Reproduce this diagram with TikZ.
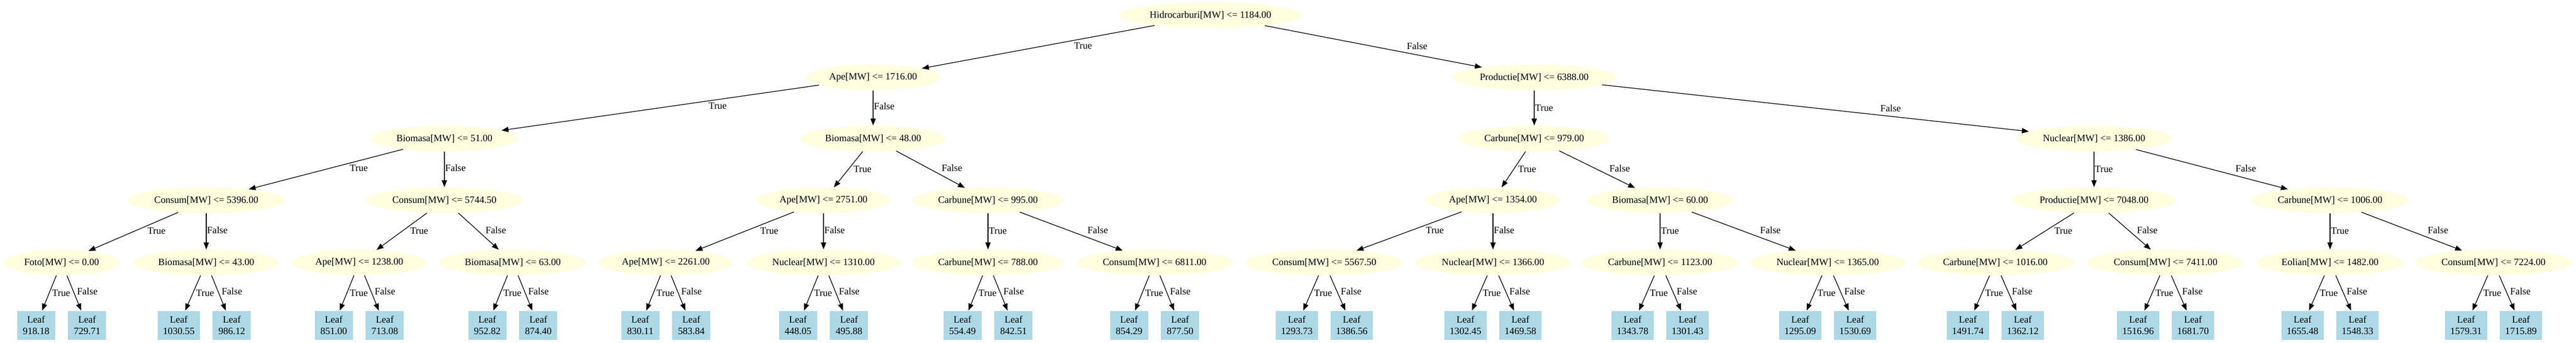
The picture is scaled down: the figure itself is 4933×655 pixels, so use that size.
\documentclass[tikz,border=0pt]{standalone}
\usepackage{fontspec}
\setmainfont{Liberation Serif}
\usepackage{tikz}
\usetikzlibrary{arrows.meta,shapes.geometric}
\usepackage{xcolor}
\definecolor{condfill}{HTML}{FFFFE0}
\definecolor{leaffill}{HTML}{ADD8E6}

\begin{document}
\begin{tikzpicture}[x=0.5pt,y=-0.5pt,>={Triangle[length=6.7pt,width=5pt]},
font=\fontsize{9.3}{11}\selectfont,
cond/.style={ellipse,fill=condfill,inner xsep=3.5pt,inner ysep=1pt,minimum height=24.5pt},
leaf/.style={rectangle,fill=leaffill,align=center,inner xsep=5pt,minimum width=36.5pt,minimum height=27.5pt},
truelbl/.style={pos=.35,anchor=north west,inner xsep=.5pt,inner ysep=0pt,text height=7.5pt,text depth=3pt},
falselbl/.style={pos=.65,anchor=south west,inner xsep=.5pt,inner ysep=0pt,text height=7.5pt,text depth=3pt},
branch/.style={->,line width=.65pt}]
\useasboundingbox (0,0) rectangle (4933,655);
%%%TESTS
\node[cond] (root) at (2318,29) {Hidrocarburi[MW] <= 1184.00};
\node[cond] (ape1) at (1672,148) {Ape[MW] <= 1716.00};
\node[cond] (prod1) at (2938,148) {Productie[MW] <= 6388.00};
\node[cond] (bio1) at (851,265) {Biomasa[MW] <= 51.00};
\node[cond] (bio2) at (1672,265) {Biomasa[MW] <= 48.00};
\node[cond] (carb1) at (2938,265) {Carbune[MW] <= 979.00};
\node[cond] (nuc1) at (4010,265) {Nuclear[MW] <= 1386.00};
\node[cond] (con1) at (395,383) {Consum[MW] <= 5396.00};
\node[cond] (con2) at (851,383) {Consum[MW] <= 5744.50};
\node[cond] (ape2) at (1577,383) {Ape[MW] <= 2751.00};
\node[cond] (carb2) at (1892,383) {Carbune[MW] <= 995.00};
\node[cond] (ape3) at (2859,383) {Ape[MW] <= 1354.00};
\node[cond] (bio3) at (3179,383) {Biomasa[MW] <= 60.00};
\node[cond] (prod2) at (4010,383) {Productie[MW] <= 7048.00};
\node[cond] (carb3) at (4462,383) {Carbune[MW] <= 1006.00};
\node[cond] (foto) at (118,502) {Foto[MW] <= 0.00};
\node[cond] (bio4) at (395,502) {Biomasa[MW] <= 43.00};
\node[cond] (ape4) at (688,502) {Ape[MW] <= 1238.00};
\node[cond] (bio5) at (982,502) {Biomasa[MW] <= 63.00};
\node[cond] (ape5) at (1275,502) {Ape[MW] <= 2261.00};
\node[cond] (nuc2) at (1577,502) {Nuclear[MW] <= 1310.00};
\node[cond] (carb4) at (1892,502) {Carbune[MW] <= 788.00};
\node[cond] (con3) at (2211,502) {Consum[MW] <= 6811.00};
\node[cond] (con4) at (2536,502) {Consum[MW] <= 5567.50};
\node[cond] (nuc3) at (2859,502) {Nuclear[MW] <= 1366.00};
\node[cond] (carb5) at (3179,502) {Carbune[MW] <= 1123.00};
\node[cond] (nuc4) at (3500,502) {Nuclear[MW] <= 1365.00};
\node[cond] (carb6) at (3821,502) {Carbune[MW] <= 1016.00};
\node[cond] (con5) at (4147,502) {Consum[MW] <= 7411.00};
\node[cond] (eol) at (4462,502) {Eolian[MW] <= 1482.00};
\node[cond] (con6) at (4775,502) {Consum[MW] <= 7224.00};
%%%LEAVES
\node[leaf,anchor=east] (foto-t) at (106,622) {Leaf\\918.18};
\node[leaf,anchor=west] (foto-f) at (130,622) {Leaf\\729.71};
\node[leaf,anchor=east] (bio4-t) at (383,622) {Leaf\\1030.55};
\node[leaf,anchor=west] (bio4-f) at (407,622) {Leaf\\986.12};
\node[leaf,anchor=east] (ape4-t) at (676,622) {Leaf\\851.00};
\node[leaf,anchor=west] (ape4-f) at (700,622) {Leaf\\713.08};
\node[leaf,anchor=east] (bio5-t) at (970,622) {Leaf\\952.82};
\node[leaf,anchor=west] (bio5-f) at (994,622) {Leaf\\874.40};
\node[leaf,anchor=east] (ape5-t) at (1263,622) {Leaf\\830.11};
\node[leaf,anchor=west] (ape5-f) at (1287,622) {Leaf\\583.84};
\node[leaf,anchor=east] (nuc2-t) at (1565,622) {Leaf\\448.05};
\node[leaf,anchor=west] (nuc2-f) at (1589,622) {Leaf\\495.88};
\node[leaf,anchor=east] (carb4-t) at (1880,622) {Leaf\\554.49};
\node[leaf,anchor=west] (carb4-f) at (1904,622) {Leaf\\842.51};
\node[leaf,anchor=east] (con3-t) at (2199,622) {Leaf\\854.29};
\node[leaf,anchor=west] (con3-f) at (2223,622) {Leaf\\877.50};
\node[leaf,anchor=east] (con4-t) at (2524,622) {Leaf\\1293.73};
\node[leaf,anchor=west] (con4-f) at (2548,622) {Leaf\\1386.56};
\node[leaf,anchor=east] (nuc3-t) at (2847,622) {Leaf\\1302.45};
\node[leaf,anchor=west] (nuc3-f) at (2871,622) {Leaf\\1469.58};
\node[leaf,anchor=east] (carb5-t) at (3167,622) {Leaf\\1343.78};
\node[leaf,anchor=west] (carb5-f) at (3191,622) {Leaf\\1301.43};
\node[leaf,anchor=east] (nuc4-t) at (3488,622) {Leaf\\1295.09};
\node[leaf,anchor=west] (nuc4-f) at (3512,622) {Leaf\\1530.69};
\node[leaf,anchor=east] (carb6-t) at (3809,622) {Leaf\\1491.74};
\node[leaf,anchor=west] (carb6-f) at (3833,622) {Leaf\\1362.12};
\node[leaf,anchor=east] (con5-t) at (4135,622) {Leaf\\1516.96};
\node[leaf,anchor=west] (con5-f) at (4159,622) {Leaf\\1681.70};
\node[leaf,anchor=east] (eol-t) at (4450,622) {Leaf\\1655.48};
\node[leaf,anchor=west] (eol-f) at (4474,622) {Leaf\\1548.33};
\node[leaf,anchor=east] (con6-t) at (4763,622) {Leaf\\1579.31};
\node[leaf,anchor=west] (con6-f) at (4787,622) {Leaf\\1715.89};
%%%BRANCHES
\draw[branch] (root) -- (ape1) node[truelbl] {True};
\draw[branch] (root) -- (prod1) node[falselbl] {False};
\draw[branch] (ape1) -- (bio1) node[truelbl] {True};
\draw[branch] (ape1) -- (bio2) node[falselbl] {False};
\draw[branch] (prod1) -- (carb1) node[truelbl] {True};
\draw[branch] (prod1) -- (nuc1) node[falselbl] {False};
\draw[branch] (bio1) -- (con1) node[truelbl] {True};
\draw[branch] (bio1) -- (con2) node[falselbl] {False};
\draw[branch] (bio2) -- (ape2) node[truelbl] {True};
\draw[branch] (bio2) -- (carb2) node[falselbl] {False};
\draw[branch] (carb1) -- (ape3) node[truelbl] {True};
\draw[branch] (carb1) -- (bio3) node[falselbl] {False};
\draw[branch] (nuc1) -- (prod2) node[truelbl] {True};
\draw[branch] (nuc1) -- (carb3) node[falselbl] {False};
\draw[branch] (con1) -- (foto) node[truelbl] {True};
\draw[branch] (con1) -- (bio4) node[falselbl] {False};
\draw[branch] (con2) -- (ape4) node[truelbl] {True};
\draw[branch] (con2) -- (bio5) node[falselbl] {False};
\draw[branch] (ape2) -- (ape5) node[truelbl] {True};
\draw[branch] (ape2) -- (nuc2) node[falselbl] {False};
\draw[branch] (carb2) -- (carb4) node[truelbl] {True};
\draw[branch] (carb2) -- (con3) node[falselbl] {False};
\draw[branch] (ape3) -- (con4) node[truelbl] {True};
\draw[branch] (ape3) -- (nuc3) node[falselbl] {False};
\draw[branch] (bio3) -- (carb5) node[truelbl] {True};
\draw[branch] (bio3) -- (nuc4) node[falselbl] {False};
\draw[branch] (prod2) -- (carb6) node[truelbl] {True};
\draw[branch] (prod2) -- (con5) node[falselbl] {False};
\draw[branch] (carb3) -- (eol) node[truelbl] {True};
\draw[branch] (carb3) -- (con6) node[falselbl] {False};
%%%LEAF BRANCHES
\draw[branch] (foto) -- (foto-t) node[truelbl] {True};
\draw[branch] (foto) -- (foto-f) node[falselbl] {False};
\draw[branch] (bio4) -- (bio4-t) node[truelbl] {True};
\draw[branch] (bio4) -- (bio4-f) node[falselbl] {False};
\draw[branch] (ape4) -- (ape4-t) node[truelbl] {True};
\draw[branch] (ape4) -- (ape4-f) node[falselbl] {False};
\draw[branch] (bio5) -- (bio5-t) node[truelbl] {True};
\draw[branch] (bio5) -- (bio5-f) node[falselbl] {False};
\draw[branch] (ape5) -- (ape5-t) node[truelbl] {True};
\draw[branch] (ape5) -- (ape5-f) node[falselbl] {False};
\draw[branch] (nuc2) -- (nuc2-t) node[truelbl] {True};
\draw[branch] (nuc2) -- (nuc2-f) node[falselbl] {False};
\draw[branch] (carb4) -- (carb4-t) node[truelbl] {True};
\draw[branch] (carb4) -- (carb4-f) node[falselbl] {False};
\draw[branch] (con3) -- (con3-t) node[truelbl] {True};
\draw[branch] (con3) -- (con3-f) node[falselbl] {False};
\draw[branch] (con4) -- (con4-t) node[truelbl] {True};
\draw[branch] (con4) -- (con4-f) node[falselbl] {False};
\draw[branch] (nuc3) -- (nuc3-t) node[truelbl] {True};
\draw[branch] (nuc3) -- (nuc3-f) node[falselbl] {False};
\draw[branch] (carb5) -- (carb5-t) node[truelbl] {True};
\draw[branch] (carb5) -- (carb5-f) node[falselbl] {False};
\draw[branch] (nuc4) -- (nuc4-t) node[truelbl] {True};
\draw[branch] (nuc4) -- (nuc4-f) node[falselbl] {False};
\draw[branch] (carb6) -- (carb6-t) node[truelbl] {True};
\draw[branch] (carb6) -- (carb6-f) node[falselbl] {False};
\draw[branch] (con5) -- (con5-t) node[truelbl] {True};
\draw[branch] (con5) -- (con5-f) node[falselbl] {False};
\draw[branch] (eol) -- (eol-t) node[truelbl] {True};
\draw[branch] (eol) -- (eol-f) node[falselbl] {False};
\draw[branch] (con6) -- (con6-t) node[truelbl] {True};
\draw[branch] (con6) -- (con6-f) node[falselbl] {False};
\end{tikzpicture}
\end{document}
